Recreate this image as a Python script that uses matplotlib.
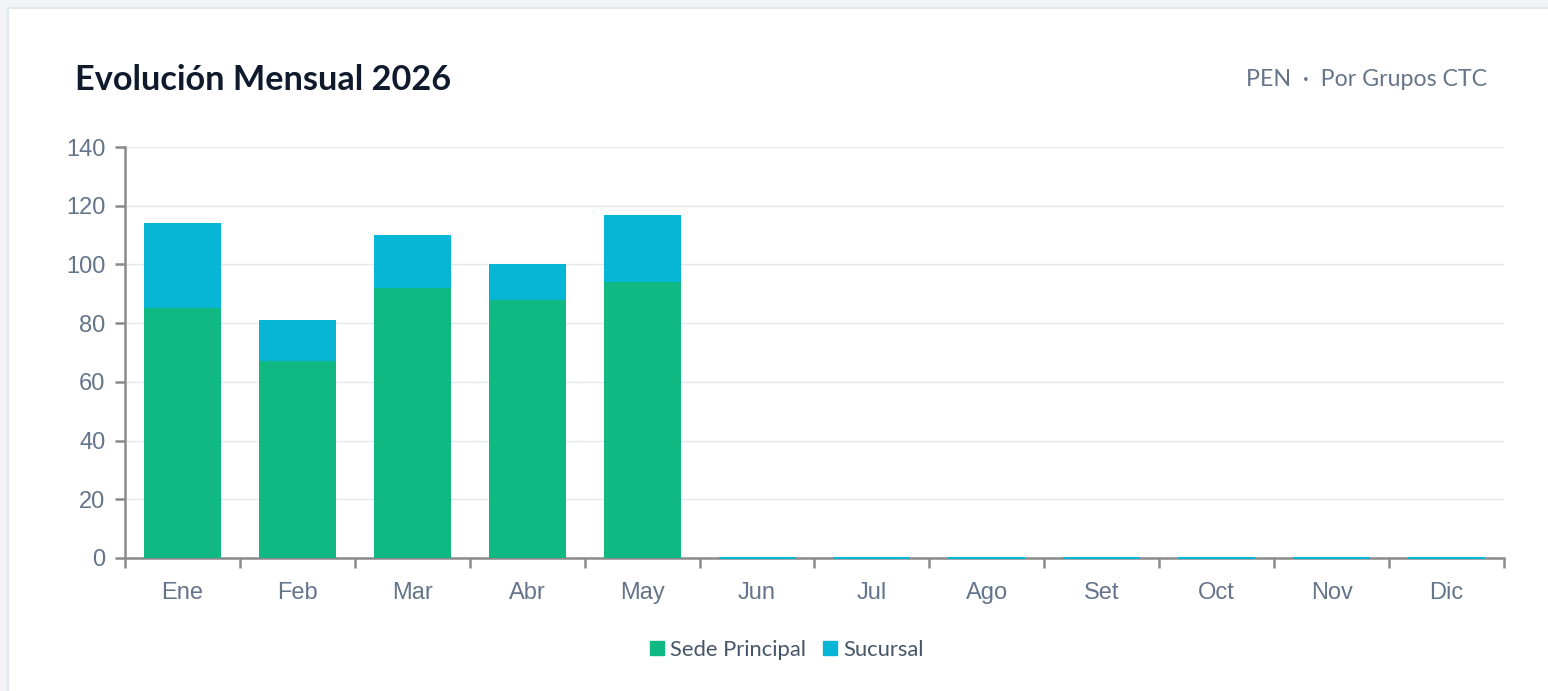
import matplotlib.pyplot as plt
from matplotlib.patches import Rectangle
from matplotlib.lines import Line2D

months = ["Ene", "Feb", "Mar", "Abr", "May", "Jun", "Jul", "Ago", "Set", "Oct", "Nov", "Dic"]
sede_principal = [85, 67, 92, 88, 94, 0, 0, 0, 0, 0, 0, 0]
sucursal = [29, 14, 18, 12, 23, 0, 0, 0, 0, 0, 0, 0]

GREEN = "#10b981"
CYAN = "#06b6d4"
AXIS = "#8a8a8a"
TICK_TEXT = "#64748b"

W, H = 1548, 691
fig = plt.figure(figsize=(W / 100, H / 100), dpi=100)
fig.patch.set_facecolor("#f1f3f6")

# white card behind everything
card = Rectangle((8 / W, -0.1), 1.1, 1 - 8 / H + 0.1, transform=fig.transFigure,
                 facecolor="white", edgecolor="#e2e8f0", linewidth=1.5, zorder=-5)
fig.patches.append(card)

ax = fig.add_axes([125 / W, 1 - 558 / H, (1504 - 125) / W, (558 - 147) / H])
ax.set_facecolor("none")
ax.set_zorder(2)

x = list(range(len(months)))
ax.bar(x, sede_principal, width=0.67, color=GREEN, zorder=3)
# empty months still show a thin cyan line on the baseline
edge_lw = [0 if v else 1.5 for v in sucursal]
ax.bar(x, sucursal, width=0.67, bottom=sede_principal, color=CYAN,
       edgecolor=CYAN, linewidth=edge_lw, zorder=3, clip_on=False)

ax.set_xlim(-0.5, len(months) - 0.5)
ax.set_ylim(0, 140)
ax.set_yticks(range(0, 141, 20))
ax.grid(axis="y", color="#e2e8f0", linewidth=1, zorder=0)
ax.set_axisbelow(True)

ax.set_xticks(x)
ax.set_xticklabels(months)
ax.set_xticks([i - 0.5 for i in range(len(months) + 1)], minor=True)
ax.tick_params(axis="x", which="major", length=0, pad=17, labelsize=17, labelcolor=TICK_TEXT)
ax.tick_params(axis="x", which="minor", length=7, width=1.8, color=AXIS)
ax.tick_params(axis="y", length=7, width=1.8, color=AXIS, pad=7, labelsize=17, labelcolor=TICK_TEXT)
for lbl in ax.get_xticklabels() + ax.get_yticklabels():
    lbl.set_family("Liberation Sans")

for side in ["top", "right"]:
    ax.spines[side].set_visible(False)
for side in ["left", "bottom"]:
    ax.spines[side].set_color(AXIS)
    ax.spines[side].set_linewidth(1.8)

fig.text(75 / W, 1 - 80 / H, "Evolución Mensual 2026", family="Lato", weight="bold",
         fontsize=24.7, color="#0f1b2d", va="center", ha="left")
fig.text(1487 / W, 1 - 79 / H, "PEN  ·  Por Grupos CTC", family="Lato",
         fontsize=16.7, color="#64748b", va="center", ha="right")

handles = [Line2D([], [], marker="s", linestyle="none", markersize=10, color=GREEN),
           Line2D([], [], marker="s", linestyle="none", markersize=10, color=CYAN)]
fig.legend(handles, ["Sede Principal", "Sucursal"], loc="center", bbox_to_anchor=(785 / W, 1 - 650 / H),
           ncol=2, frameon=False, prop={"family": "Lato", "size": 15.8}, handletextpad=0.1,
           columnspacing=0.6, labelcolor="#475569", handlelength=1.0)

fig.savefig("out.png", dpi=100, facecolor=fig.get_facecolor())
